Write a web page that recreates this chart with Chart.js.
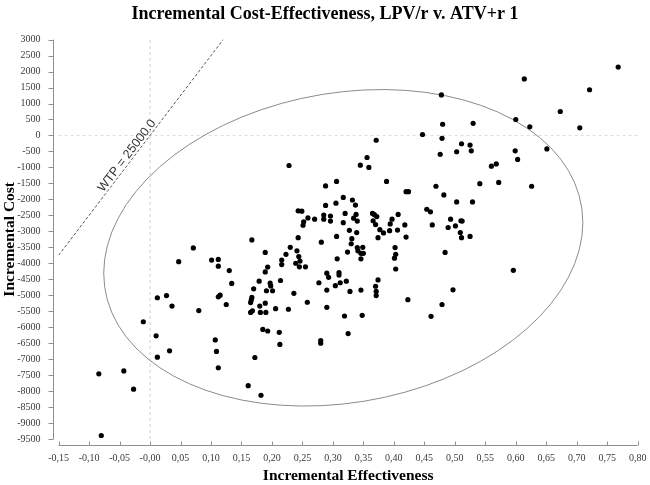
<!DOCTYPE html>
<html>
<head>
<meta charset="utf-8">
<script src="https://cdn.jsdelivr.net/npm/chart.js@4/dist/chart.umd.min.js"></script>
<style>
  html, body { margin: 0; padding: 0; background: #fff; }
  #c { display: block; }
</style>
</head>
<body>
<canvas id="c" width="650" height="485"></canvas>
<script>
// ---- Data ----
const chartTitle = 'Incremental Cost-Effectiveness, LPV/r v. ATV+r 1';
const xAxisTitle = 'Incremental Effectiveness';
const yAxisTitle = 'Incremental Cost';

const incrementalEffect = [
  0.167, 0.071, 0.047, 0.101, 0.112, 0.112, 0.130, 0.134, 0.179, 0.170,
  0.012, 0.027, 0.112, 0.115, 0.167, 0.189, 0.193, 0.189, 0.197, 0.198,
  0.191, 0.201, 0.214, 0.036, 0.080, 0.125, 0.166, 0.165, 0.165, 0.168,
  0.180, 0.181, 0.189, 0.190, 0.206, -0.011, 0.010, 0.032, 0.012, 0.107,
  0.109, 0.112, 0.185, 0.193, 0.212, 0.213, 0.172, 0.161, 0.182, -0.084,
  -0.043, -0.027, -0.080, 0.356, 0.345, 0.359, 0.476, 0.228, 0.388, 0.306,
  0.288, 0.469, 0.420, 0.424, 0.482, 0.317, 0.332, 0.305, 0.337, 0.288,
  0.243, 0.249, 0.320, 0.338, 0.365, 0.368, 0.372, 0.407, 0.454, 0.460,
  0.285, 0.285, 0.296, 0.296, 0.259, 0.270, 0.334, 0.340, 0.252, 0.251,
  0.366, 0.370, 0.397, 0.394, 0.418, 0.463, 0.489, 0.493, 0.317, 0.327,
  0.339, 0.377, 0.383, 0.393, 0.406, 0.306, 0.331, 0.374, 0.420, 0.243,
  0.281, 0.330, 0.230, 0.340, 0.341, 0.349, 0.350, 0.346, 0.324, 0.241,
  0.223, 0.402, 0.216, 0.216, 0.244, 0.246, 0.239, 0.245, 0.255, 0.307,
  0.346, 0.403, 0.401, 0.403, 0.484, 0.236, 0.290, 0.293, 0.310, 0.310,
  0.277, 0.304, 0.312, 0.322, 0.290, 0.328, 0.346, 0.374, 0.370, 0.371,
  0.371, 0.423, 0.227, 0.258, 0.290, 0.319, 0.348, 0.479, 0.461, 0.325,
  0.280, 0.280, 0.768, 0.614, 0.721, 0.478, 0.673, 0.600, 0.623, 0.705,
  0.480, 0.530, 0.447, 0.479, 0.651, 0.511, 0.525, 0.503, 0.527, 0.599,
  0.603, 0.560, 0.568, 0.541, 0.572, 0.626, 0.503, 0.529, 0.510, 0.512,
  0.501, 0.509, 0.511, 0.525, 0.596, 0.497, 0.371
];
const incrementalCost = [
  -3270, -3520, -3950, -3900, -3880, -4090, -4230, -4630, -4560, -4800,
  -5080, -5010, -5050, -5000, -5070, -3660, -4120, -4270, -4620, -4710,
  -4860, -4860, -4540, -5340, -5480, -5290, -5150, -5230, -5540, -5490,
  -5340, -5540, -5250, -5540, -5420, -5830, -6270, -6740, -6940, -6400,
  -6760, -7270, -6070, -6120, -6160, -6540, -6950, -7830, -8130, -7460,
  -7370, -7940, -9390, -690, -930, -1000, -590, -940, -1440, -1440,
  -1580, -1590, -1760, -1760, -1860, -1940, -2020, -2120, -2180, -2190,
  -2360, -2370, -2440, -2470, -2440, -2480, -2540, -2470, -2310, -2390,
  -2490, -2620, -2520, -2680, -2580, -2620, -2590, -2680, -2700, -2810,
  -2670, -2790, -2620, -2770, -2800, -2800, -2880, -2620, -2730, -2970,
  -3040, -2950, -3050, -2980, -2960, -3160, -3230, -3200, -3180, -3200,
  -3340, -3390, -3500, -3510, -3610, -3500, -3690, -3690, -3650, -3610,
  -3720, -3510, -3900, -4040, -3790, -3930, -4000, -4110, -4110, -3860,
  -3860, -3720, -3840, -4180, -3660, -4940, -4310, -4440, -4290, -4370,
  -4610, -4700, -4610, -4560, -4840, -4880, -4840, -4520, -4720, -4880,
  -5010, -5140, -5440, -5220, -5380, -5650, -5630, -5290, -5660, -6200,
  -6420, -6500, 2140, 1770, 1430, 1270, 750, 500, 270, 240,
  350, 380, 30, -90, -420, -260, -300, -510, -480, -480,
  -750, -960, -890, -1510, -1470, -1590, -2080, -2080, -2670, -2680,
  -2830, -3040, -3200, -3160, -4220, -4830, -150
];

// Axis ticks
const xTickValues = [-0.15, -0.10, -0.05, 0.00, 0.05, 0.10, 0.15, 0.20, 0.25, 0.30,
                     0.35, 0.40, 0.45, 0.50, 0.55, 0.60, 0.65, 0.70, 0.75, 0.80];
const xTickLabels = ['-0,15', '-0,10', '-0,05', '-0,00', '0,05', '0,10', '0,15', '0,20', '0,25', '0,30',
                     '0,35', '0,40', '0,45', '0,50', '0,55', '0,60', '0,65', '0,70', '0,75', '0,80'];
const yTickValues = [-9500, -9000, -8500, -8000, -7500, -7000, -6500, -6000, -5500, -5000,
                     -4500, -4000, -3500, -3000, -2500, -2000, -1500, -1000, -500, 0,
                     500, 1000, 1500, 2000, 2500, 3000];
const yTickLabels = ['-9500', '-9000', '-8500', '-8000', '-7500', '-7000', '-6500', '-6000', '-5500', '-5000',
                     '-4500', '-4000', '-3500', '-3000', '-2500', '-2000', '-1500', '-1000', '-500', '0',
                     '500', '1000', '1500', '2000', '2500', '3000'];

// Willingness-to-pay threshold line
const wtpValue = 25000;
const wtpLabel = 'WTP = 25000.0';
const wtpEffectRange = [-0.15, 0.12];
const wtpLabelEffect = -0.03;

// Confidence ellipse (centre and shape, in data units)
const ellipseCenter = [0.317, -3516];
const ellipseShape = [0.393, 794, 4889]; // x radius, y shear, y radius
const ellipseSegments = 72;

// ---- Build datasets ----
const xMin = xTickValues[0], xMax = xTickValues[xTickValues.length - 1];
const yMin = yTickValues[0], yMax = yTickValues[yTickValues.length - 1];

const scatterPts = incrementalEffect.map((e, i) => ({ x: e, y: incrementalCost[i] }));
const wtpPts = wtpEffectRange.map(e => ({ x: e, y: wtpValue * e }));
const ellipsePts = [];
for (let k = 0; k <= ellipseSegments; k++) {
  const t = 2 * Math.PI * k / ellipseSegments;
  ellipsePts.push({
    x: ellipseCenter[0] + ellipseShape[0] * Math.cos(t),
    y: ellipseCenter[1] + ellipseShape[1] * Math.cos(t) + ellipseShape[2] * Math.sin(t)
  });
}

const SERIF = "'Liberation Serif', 'Times New Roman', serif";

const axesPlugin = {
  id: 'offsetAxes',
  afterDraw(chart) {
    const { ctx, chartArea: a, scales: { x, y } } = chart;
    ctx.save();
    ctx.strokeStyle = '#8f8f8f';
    ctx.lineWidth = 1;
    const ax = Math.round(a.left - 6) + 0.5;
    ctx.beginPath();
    ctx.moveTo(ax, y.getPixelForValue(yMax));
    ctx.lineTo(ax, y.getPixelForValue(yMin));
    yTickValues.forEach(v => {
      const py = Math.round(y.getPixelForValue(v)) + 0.5;
      ctx.moveTo(ax - 5, py);
      ctx.lineTo(ax, py);
    });
    const ay = Math.round(a.bottom + 6) + 0.5;
    ctx.moveTo(x.getPixelForValue(xMin), ay);
    ctx.lineTo(x.getPixelForValue(xMax), ay);
    xTickValues.forEach(v => {
      const px = Math.round(x.getPixelForValue(v)) + 0.5;
      ctx.moveTo(px, ay - 4);
      ctx.lineTo(px, ay);
    });
    ctx.stroke();
    ctx.restore();
  }
};

const wtpLabelPlugin = {
  id: 'wtpLabel',
  afterDatasetsDraw(chart) {
    const { ctx, scales: { x, y } } = chart;
    const x1 = x.getPixelForValue(wtpPts[0].x), y1 = y.getPixelForValue(wtpPts[0].y);
    const x2 = x.getPixelForValue(wtpPts[1].x), y2 = y.getPixelForValue(wtpPts[1].y);
    const ang = Math.atan2(y2 - y1, x2 - x1);
    const px = x.getPixelForValue(wtpLabelEffect), py = y.getPixelForValue(wtpValue * wtpLabelEffect);
    ctx.save();
    ctx.translate(px, py);
    ctx.rotate(ang);
    ctx.font = "12.5px 'Liberation Sans', Arial, sans-serif";
    ctx.fillStyle = '#333';
    ctx.textAlign = 'center';
    ctx.textBaseline = 'middle';
    ctx.fillText(wtpLabel, 0, -6);
    ctx.restore();
  }
};

new Chart(document.getElementById('c'), {
  type: 'scatter',
  data: {
    datasets: [
      {
        label: 'points', data: scatterPts, backgroundColor: '#000', borderColor: '#000',
        pointRadius: 2.6, pointBorderWidth: 0, order: 0
      },
      {
        label: 'ellipse', data: ellipsePts, showLine: true, pointRadius: 0,
        borderColor: '#8a8a8a', borderWidth: 1, tension: 0, fill: false, order: 3
      },
      {
        label: 'wtp', data: wtpPts, showLine: true, pointRadius: 0,
        borderColor: '#555', borderWidth: 1, borderDash: [3, 2], order: 2
      },
      {
        label: 'zeroX', data: [{ x: 0, y: yMin }, { x: 0, y: yMax }], showLine: true, pointRadius: 0,
        borderColor: '#cfcfcf', borderWidth: 1, borderDash: [3, 3], order: 4
      },
      {
        label: 'zeroY', data: [{ x: xMin, y: 0 }, { x: xMax, y: 0 }], showLine: true, pointRadius: 0,
        borderColor: '#dcdcdc', borderWidth: 1, borderDash: [3, 3], order: 4
      }
    ]
  },
  options: {
    responsive: false,
    animation: false,
    events: [],
    layout: { padding: { left: 0, right: 0, top: 0, bottom: 0 } },
    plugins: {
      legend: { display: false },
      tooltip: { enabled: false },
      title: {
        display: true, text: chartTitle, color: '#000',
        font: { family: SERIF, size: 18, weight: 'bold' },
        padding: { top: 4, bottom: 14 }
      }
    },
    scales: {
      x: {
        type: 'linear', min: xMin, max: xMax,
        afterBuildTicks: s => { s.ticks = xTickValues.map(v => ({ value: v })); },
        grid: { display: false, drawTicks: false },
        border: { display: false },
        ticks: {
          autoSkip: false, maxRotation: 0, padding: 13, color: '#3a3a3a',
          font: { family: SERIF, size: 10 },
          callback: (v, i) => xTickLabels[i]
        },
        title: {
          display: true, text: xAxisTitle, color: '#000',
          font: { family: SERIF, size: 15.5, weight: 'bold' },
          padding: { top: 3, bottom: 0 }
        },
        afterFit: s => { s.height = 46; s.paddingRight = 12.3; s.paddingLeft = 0; }
      },
      y: {
        type: 'linear', min: yMin, max: yMax,
        afterBuildTicks: s => { s.ticks = yTickValues.map(v => ({ value: v })); },
        grid: { display: false, drawTicks: false },
        border: { display: false },
        ticks: {
          autoSkip: false, padding: 18, color: '#3a3a3a',
          font: { family: SERIF, size: 10 },
          callback: (v, i) => yTickLabels[i]
        },
        title: {
          display: true, text: yAxisTitle, color: '#000',
          font: { family: SERIF, size: 15.5, weight: 'bold' },
          padding: { top: 1, bottom: 0 }
        },
        afterFit: s => { s.width = 58.6; }
      }
    }
  },
  plugins: [axesPlugin, wtpLabelPlugin]
});
</script>
</body>
</html>
